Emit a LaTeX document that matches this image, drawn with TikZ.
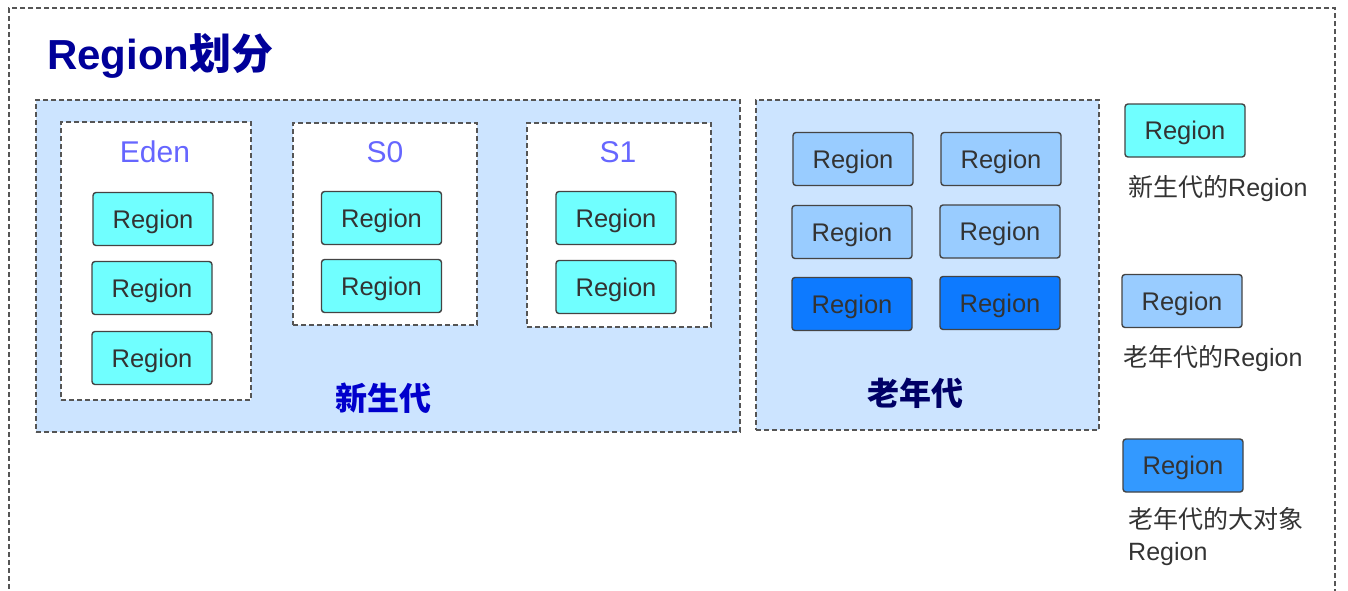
\documentclass[tikz,border=0pt]{standalone}
\usepackage{fontspec}
\setmainfont{Liberation Sans}
\newfontfamily\cjk{Noto Sans CJK SC}
\definecolor{bgblue}{RGB}{204,228,255}
\definecolor{cyanreg}{RGB}{112,255,255}
\definecolor{oldreg}{RGB}{153,204,255}
\definecolor{bigreg}{RGB}{13,122,255}
\definecolor{legbig}{RGB}{51,153,255}
\definecolor{dashgray}{RGB}{85,85,85}
\definecolor{boxborder}{RGB}{68,68,68}
\definecolor{txtgray}{RGB}{51,51,51}
\definecolor{spacelbl}{RGB}{102,102,255}
\definecolor{younglbl}{RGB}{0,0,204}
\definecolor{oldlbl}{RGB}{0,0,102}
\definecolor{titlecol}{RGB}{0,0,153}
\begin{document}
\begin{tikzpicture}[x=1pt,y=-1pt,
  container/.style={draw=dashgray,line width=1.4pt,dash pattern=on 5pt off 3pt,inner sep=0pt},
  region/.style={draw=boxborder,line width=1.4pt,rounded corners=3pt,minimum width=120pt,minimum height=53pt,inner sep=0pt,text depth=0pt,text=txtgray,font=\fontsize{25.5}{28}\selectfont},
  spacelabel/.style={text=spacelbl,font=\fontsize{30}{34}\selectfont,inner sep=0pt},
  genlabel/.style={font=\cjk\bfseries\fontsize{32}{36}\selectfont,inner sep=0pt},
  legtext/.style={text=txtgray,font=\fontsize{25}{32}\selectfont,inner sep=0pt,anchor=west,align=left}]
\useasboundingbox (0,0) rectangle (1348,590);
% outer frame
\node[container,minimum width=1326pt,minimum height=612pt] (outer) at (672,314) {};
% title
\node[anchor=west,inner sep=0pt,text=titlecol,font=\bfseries\fontsize{42}{46}\selectfont] (title) at (47,56) {Region{\cjk 划分}};
% young generation
\node[container,fill=bgblue,minimum width=704pt,minimum height=332pt] (young) at (388,266) {};
\node[container,fill=white,minimum width=190pt,minimum height=278pt] (eden) at (156,261) {};
\node[container,fill=white,minimum width=184pt,minimum height=202pt] (s0) at (385,224) {};
\node[container,fill=white,minimum width=184pt,minimum height=204pt] (s1) at (619,225) {};
\node[spacelabel] (edenl) at (155,152) {Eden};
\node[spacelabel] (s0l) at (385,152) {S0};
\node[spacelabel] (s1l) at (618,152) {S1};
\node[region,fill=cyanreg] (e1) at (153,219) {Region};
\node[region,fill=cyanreg] (e2) at (152,288) {Region};
\node[region,fill=cyanreg] (e3) at (152,358) {Region};
\node[region,fill=cyanreg] (a1) at (381.5,218) {Region};
\node[region,fill=cyanreg] (a2) at (381.5,286) {Region};
\node[region,fill=cyanreg] (b1) at (616,218) {Region};
\node[region,fill=cyanreg] (b2) at (616,287) {Region};
\node[genlabel,text=younglbl] (youngl) at (383,398) {新生代};
% old generation
\node[container,fill=bgblue,minimum width=343pt,minimum height=330pt] (old) at (927.5,265) {};
\node[region,fill=oldreg] (o1) at (853,159) {Region};
\node[region,fill=oldreg] (o2) at (1001,159) {Region};
\node[region,fill=oldreg] (o3) at (852,232) {Region};
\node[region,fill=oldreg] (o4) at (1000,231.5) {Region};
\node[region,fill=bigreg] (o5) at (852,304) {Region};
\node[region,fill=bigreg] (o6) at (1000,303) {Region};
\node[genlabel,text=oldlbl] (oldl) at (915,393) {老年代};
% legend
\node[region,fill=cyanreg] (leg1) at (1185,130.5) {Region};
\node[legtext] (legt1) at (1128,189) {{\cjk 新生代的}Region};
\node[region,fill=oldreg] (leg2) at (1182,301) {Region};
\node[legtext] (legt2) at (1123,359) {{\cjk 老年代的}Region};
\node[region,fill=legbig] (leg3) at (1183,465.5) {Region};
\node[legtext,anchor=north west] (legt3) at (1128,507) {{\cjk 老年代的大对象}\\Region};
\end{tikzpicture}
\end{document}
